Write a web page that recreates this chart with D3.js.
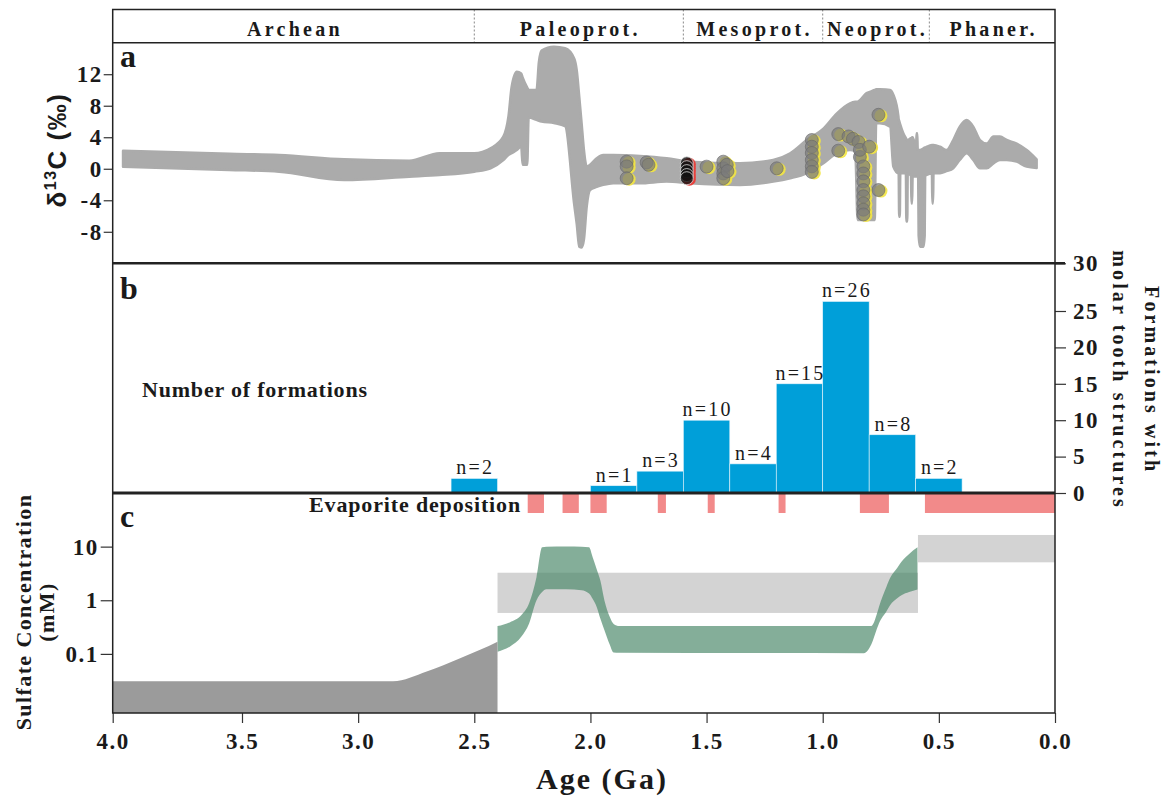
<!DOCTYPE html>
<html lang="en">
<head>
<meta charset="UTF-8">
<title>Carbon isotopes, molar tooth structures and sulfate</title>
<script src="https://d3js.org/d3.v7.min.js"></script>
<style>
  body { margin: 0; background: #fff; }
  svg text { font-family: "Liberation Serif", "Times New Roman", serif; fill: #1a1a1a; }
  .tick line { stroke: #333; stroke-width: 1.2px; }
  .tick text { font-size: 23px; font-weight: bold; letter-spacing: 1.5px; }
</style>
</head>
<body>
<svg width="1166" height="799"></svg>
<script>
// ---- data ----
const eraNames = ["Archean", "Paleoprot.", "Mesoprot.", "Neoprot.", "Phaner."];
const eraBounds = [4.0, 2.5, 1.6, 1.0, 0.541, 0];

// d13C envelope (grey band): age (Ga), upper and lower edge (permil)
const bandAge = [3.96, 3.55, 3.34, 3.06, 2.78, 2.65, 2.50, 2.43, 2.375, 2.353, 2.339, 2.317, 2.298, 2.292, 2.272, 2.266,
  2.232, 2.222, 2.21, 2.157, 2.109, 2.07, 2.059, 2.048, 2.038, 2.028, 2.016, 2.002, 1.973, 1.945, 1.902, 1.787,
  1.672, 1.571, 1.356, 1.213, 1.14, 1.069, 0.997, 0.94, 0.8825, 0.86, 0.85, 0.811, 0.776, 0.77, 0.754, 0.71,
  0.696, 0.674, 0.673, 0.671, 0.668, 0.666, 0.653, 0.642, 0.640, 0.636, 0.634, 0.620, 0.618, 0.615, 0.613,
  0.598, 0.596, 0.593, 0.591, 0.589, 0.587, 0.581, 0.566, 0.561, 0.559, 0.552, 0.530, 0.528, 0.525, 0.523,
  0.495, 0.467, 0.438, 0.41, 0.38, 0.352, 0.323, 0.294, 0.265, 0.237, 0.208, 0.165, 0.122, 0.079];
const bandHigh = [2.3, 1.9, 1.75, 1.2, 1.03, 1.97, 1.97, 2.6, 4.07, 6.6, 10.4, 12.3, 12.1, 11.6, 10.3, 10.0,
  10.0, 13.5, 15.0, 15.5, 15.3, 14.0, 12.5, 9.1, 5.8, 2.4, 0.3, 0.5, 1.33, 1.75, 1.75, 1.62,
  1.33, 0.9, 0.7, 1.12, 1.97, 3.65, 5.1, 7.0, 8.3, 8.5, 8.52, 9.6, 10.0, 10.1, 10.09, 10.0,
  9.4, 6.6, 6.3, 6.1, 5.8, 5.6, 4.5, 3.9, 3.8, 3.6, 3.6, 3.9, 3.9, 4.0, 4.0,
  2.8, 4.5, 4.5, 2.5, 2.4, 2.4, 2.38, 2.6, 2.7, 2.7, 2.8, 3.0, 3.0, 3.02, 3.02,
  2.8, 2.38, 3.65, 5.35, 6.2, 5.35, 3.65, 3.2, 4.08, 4.08, 3.65, 3.2, 2.38, 1.2];
const bandLow = [0.27, -0.15, -0.37, -1.42, -1.0, -0.79, -0.37, 0.06, 1.1, 1.75, 1.97, 2.4, 2.8, 0.5, 0.5, 6.5,
  6.2, 6.1, 6.0, 5.8, 5.4, -4.5, -7.0, -9.9, -10.0, -9.0, -4.8, -2.7, -2.3, -2.05, -1.84, -1.84,
  -1.63, -1.84, -2.05, -1.63, -1.2, -0.57, 0.7, 1.96, 2.38, 2.2, -6.5, -6.5, -6.5, 5.77, 5.77, 5.35,
  0.27, -0.57, -0.57, -6.1, -6.1, -0.57, -0.57, -0.57, -6.7, -6.7, -0.6, -0.9, -4.4, -4.4, -0.95,
  -0.99, -0.99, -0.99, -0.99, -1.0, -8.5, -9.9, -9.9, -8.5, -0.9, -0.78, -0.6, -4.4, -4.4, -0.57,
  -0.57, -0.3, 0.06, 1.11, 1.96, 1.11, 0.06, 0.06, 0.69, 1.11, 1.11, 0.9, 0.27, 0.1];

// molar-tooth carbonate d13C samples
const mtsAge = [1.844, 1.844, 1.844, 1.758, 1.75, 1.50, 1.428, 1.428, 1.428, 1.428, 1.413, 1.41, 1.198,
  1.047, 1.047, 1.047, 1.047, 1.047, 1.047, 0.933, 0.933, 0.889, 0.87, 0.846, 0.84, 0.84, 0.80,
  0.825, 0.825, 0.825, 0.825, 0.825, 0.825, 0.825, 0.825, 0.76, 0.76];
const mtsD13C = [0.9, 0.3, -1.2, 0.8, 0.5, 0.27, 0.9, 0.05, -0.6, -1.2, 0.5, -0.3, 0.06,
  3.65, 2.8, 2.0, 1.1, 0.3, -0.4, 4.4, 2.3, 4.1, 3.8, 3.4, 1.5, 2.4, 2.8,
  0.3, -0.6, -1.6, -2.7, -3.5, -4.4, -5.2, -5.8, 6.85, -2.7];
const darkAge = [1.585, 1.585, 1.585, 1.585, 1.585];
const darkD13C = [0.7, 0.2, -0.3, -0.8, -1.2];

// number of formations with molar tooth structures (0.2 Ga bins)
const binStart = [2.6, 2.0, 1.8, 1.6, 1.4, 1.2, 1.0, 0.8, 0.6];
const binEnd = [2.4, 1.8, 1.6, 1.4, 1.2, 1.0, 0.8, 0.6, 0.4];
const binCount = [2, 1, 3, 10, 4, 15, 26, 8, 2];
const countTicks = [0, 5, 10, 15, 20, 25, 30];

// evaporite deposition intervals
const evapStart = [2.27, 2.12, 2.0, 1.71, 1.495, 1.19, 0.84, 0.56];
const evapEnd = [2.20, 2.05, 1.93, 1.675, 1.465, 1.16, 0.715, 0];

// sulfate concentration (mM)
const archAge = [4.0, 2.85, 2.705, 2.561, 2.475, 2.40];
const archHigh = [0.031, 0.031, 0.047, 0.083, 0.119, 0.169];
const boxStart = [2.4, 0.59];
const boxEnd = [0.59, 0];
const boxLow = [0.58, 5.1];
const boxHigh = [3.26, 16.5];
const modelAge = [2.40, 2.346, 2.297, 2.264, 2.232, 2.208, 2.19, 2.103, 2.038, 2.006, 1.99, 1.973, 1.957, 1.94,
  1.917, 1.90, 1.876, 0.823, 0.791, 0.766, 0.758, 0.726, 0.71, 0.678, 0.661, 0.628, 0.592];
const modelHigh = [0.33, 0.39, 0.53, 0.88, 2.7, 9.7, 10.0, 10.1, 10.0, 9.7, 6.3, 3.8, 2.3, 1.0,
  0.49, 0.36, 0.33, 0.33, 0.33, 0.57, 0.75, 1.77, 2.6, 4.1, 5.2, 7.3, 9.7];
const modelLow = [0.11, 0.137, 0.21, 0.37, 1.0, 1.42, 1.6, 1.6, 1.53, 1.33, 1.05, 0.75, 0.45, 0.28,
  0.15, 0.106, 0.105, 0.103, 0.15, 0.30, 0.37, 0.62, 0.81, 1.1, 1.24, 1.42, 1.58];

const ageTicks = [4.0, 3.5, 3.0, 2.5, 2.0, 1.5, 1.0, 0.5, 0.0];

// ---- layout ----
const svg = d3.select("svg");
const L = 112.7, R = 1055;
const hTop = 9.5, aTop = 42.7, bTop = 263.3, cTop = 493, cBot = 713;

// the printed age axis is not quite linear at its left end
const x = d3.scaleLinear().domain([4, 3.5, 0]).range([L, 242, R]);
const ya = d3.scaleLinear().domain([-12, 16]).range([bTop, aTop]);
const yb = d3.scaleLinear().domain([0, 25, 30]).range([cTop, 311, bTop]);
const yc = d3.scaleLog().domain([0.0079, 100]).range([cBot, cTop]);

// ---- header ----
const eraG = svg.append("g");
eraBounds.slice(1, -1).forEach(b => {
  eraG.append("line")
    .attr("x1", x(b)).attr("x2", x(b)).attr("y1", hTop).attr("y2", aTop)
    .attr("stroke", "#888").attr("stroke-width", 1).attr("stroke-dasharray", "2,2");
});
eraNames.forEach((n, i) => {
  eraG.append("text")
    .attr("x", (x(eraBounds[i]) + x(eraBounds[i + 1])) / 2 + 1.5)
    .attr("y", 36)
    .attr("text-anchor", "middle")
    .style("font-size", "20px").style("font-weight", "bold").style("letter-spacing", "3.3px")
    .text(n);
});

// ---- panel a ----
const bandData = bandAge.map((a, i) => ({ age: a, hi: bandHigh[i], lo: bandLow[i] }));
const bandArea = d3.area()
  .x(d => x(d.age)).y0(d => ya(d.lo)).y1(d => ya(d.hi))
  .curve(d3.curveMonotoneX);
svg.append("path")
  .datum(bandData)
  .attr("d", bandArea)
  .attr("fill", "#ababab")
  .attr("stroke", "#ababab").attr("stroke-width", 2.5).attr("stroke-linejoin", "round");

const pts = mtsAge.map((a, i) => ({ age: a, v: mtsD13C[i] }));
const dark = darkAge.map((a, i) => ({ age: a, v: darkD13C[i] }));
const ptG = svg.append("g");
ptG.selectAll("circle.y").data(pts).join("circle")
  .attr("cx", d => x(d.age) + 2.5).attr("cy", d => ya(d.v) + 1)
  .attr("r", 6.5).attr("fill", "#f3e640").attr("opacity", 0.9);
ptG.selectAll("circle.g").data(pts).join("circle")
  .attr("cx", d => x(d.age)).attr("cy", d => ya(d.v))
  .attr("r", 6.5).attr("fill", "#7c7c7c").attr("fill-opacity", 0.72)
  .attr("stroke", "#666").attr("stroke-width", 0.6);
ptG.selectAll("circle.r").data(dark).join("circle")
  .attr("cx", d => x(d.age) + 2.5).attr("cy", d => ya(d.v) + 1)
  .attr("r", 6.5).attr("fill", "#e8413c");
ptG.selectAll("circle.k").data(dark).join("circle")
  .attr("cx", d => x(d.age)).attr("cy", d => ya(d.v))
  .attr("r", 6.5).attr("fill", "#111").attr("fill-opacity", 0.8)
  .attr("stroke", "#ddd").attr("stroke-width", 0.8);

svg.append("g")
  .attr("transform", `translate(${L},0)`)
  .call(d3.axisLeft(ya).tickValues([12, 8, 4, 0, -4, -8]).tickSize(9).tickPadding(1).tickFormat(d => String(d)))
  .call(g => g.select(".domain").remove());

svg.append("text")
  .attr("transform", `translate(66,${(aTop + bTop) / 2 - 3}) rotate(-90)`)
  .attr("text-anchor", "middle")
  .style("font-family", "'Liberation Sans', Arial, sans-serif")
  .style("font-size", "26px").style("font-weight", "bold").style("letter-spacing", "1.5px")
  .call(t => {
    t.append("tspan").text("δ");
    t.append("tspan").attr("dy", -10).style("font-size", "16px").text("13");
    t.append("tspan").attr("dy", 10).text("C (‰)");
  });

// ---- panel b ----
const bins = binStart.map((s, i) => ({ s: s, e: binEnd[i], n: binCount[i] }));
svg.append("g").selectAll("rect").data(bins).join("rect")
  .attr("x", d => x(d.s)).attr("width", d => x(d.e) - x(d.s))
  .attr("y", d => yb(d.n)).attr("height", d => yb(0) - yb(d.n))
  .attr("fill", "#009fd9").attr("stroke", "#e6f4fb").attr("stroke-width", 0.6);
svg.append("g").selectAll("text").data(bins).join("text")
  .attr("x", d => (x(d.s) + x(d.e)) / 2 + 1).attr("y", d => yb(d.n) - 4)
  .attr("text-anchor", "middle")
  .style("font-size", "20px").style("letter-spacing", "2.2px")
  .text(d => "n=" + d.n);

svg.append("g")
  .attr("transform", `translate(${R},0)`)
  .call(d3.axisRight(yb).tickValues(countTicks).tickSize(11).tickPadding(7))
  .call(g => g.select(".domain").remove());

svg.append("text")
  .attr("x", 142).attr("y", 397)
  .style("font-size", "22px").style("font-weight", "bold").style("letter-spacing", "0.8px")
  .text("Number of formations");

["Formations with", "molar tooth structures"].forEach((s, i) => {
  svg.append("text")
    .attr("transform", `translate(${1145 - i * 32},${(bTop + cTop) / 2 + 2}) rotate(90)`)
    .attr("text-anchor", "middle")
    .style("font-size", "20px").style("font-weight", "bold").style("letter-spacing", "3.1px")
    .text(s);
});

// ---- panel c ----
const evap = evapStart.map((s, i) => ({ s: s, e: evapEnd[i] }));
svg.append("g").selectAll("rect").data(evap).join("rect")
  .attr("x", d => x(d.s)).attr("width", d => x(d.e) - x(d.s))
  .attr("y", cTop + 1).attr("height", 19)
  .attr("fill", "#f28a8a");
svg.append("text")
  .attr("x", 521).attr("y", 512).attr("text-anchor", "end")
  .style("font-size", "22px").style("font-weight", "bold").style("letter-spacing", "0.85px")
  .text("Evaporite deposition");

const boxes = boxStart.map((s, i) => ({ s: s, e: boxEnd[i], lo: boxLow[i], hi: boxHigh[i] }));
svg.append("g").selectAll("rect").data(boxes).join("rect")
  .attr("x", d => x(d.s)).attr("width", d => x(d.e) - x(d.s))
  .attr("y", d => yc(d.hi)).attr("height", d => yc(d.lo) - yc(d.hi))
  .attr("fill", "#d3d3d3");

const model = modelAge.map((a, i) => ({ age: a, hi: modelHigh[i], lo: modelLow[i] }));
svg.append("path")
  .datum(model)
  .attr("d", d3.area().x(d => x(d.age)).y0(d => yc(d.lo)).y1(d => yc(d.hi)).curve(d3.curveMonotoneX))
  .attr("fill", "#4a8868").attr("fill-opacity", 0.68);

const arch = archAge.map((a, i) => ({ age: a, hi: archHigh[i] }));
svg.append("path")
  .datum(arch)
  .attr("d", d3.area().x(d => x(d.age)).y0(cBot).y1(d => yc(d.hi)).curve(d3.curveMonotoneX))
  .attr("fill", "#9b9b9b");

svg.append("g")
  .attr("transform", `translate(${L},0)`)
  .call(d3.axisLeft(yc).tickValues([10, 1, 0.1]).tickSize(12).tickPadding(2).tickFormat(d => String(d)))
  .call(g => g.select(".domain").remove());

["Sulfate Concentration", "(mM)"].forEach((s, i) => {
  svg.append("text")
    .attr("transform", `translate(${31 + i * 23},612) rotate(-90)`)
    .attr("text-anchor", "middle")
    .style("font-size", "22px").style("font-weight", "bold").style("letter-spacing", "1.4px")
    .text(s);
});

// ---- age axis ----
svg.append("g")
  .attr("transform", `translate(0,${cBot})`)
  .call(d3.axisBottom(x).tickValues(ageTicks).tickSize(10).tickPadding(10).tickFormat(d3.format(".1f")))
  .call(g => g.select(".domain").remove());
svg.append("text")
  .attr("x", 602).attr("y", 789).attr("text-anchor", "middle")
  .style("font-size", "30px").style("font-weight", "bold").style("letter-spacing", "2px")
  .text("Age (Ga)");

// ---- frame ----
const frame = svg.append("g").attr("fill", "none").attr("stroke", "#222");
frame.append("rect").attr("x", L).attr("y", hTop).attr("width", R - L).attr("height", cBot - hTop)
  .attr("stroke-width", 1.5);
frame.append("line").attr("x1", L).attr("x2", R).attr("y1", aTop).attr("y2", aTop).attr("stroke-width", 1.5);
frame.append("line").attr("x1", L).attr("x2", R + 10).attr("y1", bTop).attr("y2", bTop).attr("stroke-width", 2.5);
frame.append("line").attr("x1", L).attr("x2", R).attr("y1", cTop).attr("y2", cTop).attr("stroke-width", 3);

// panel letters
[["a", 67], ["b", 299], ["c", 527]].forEach(([t, y]) => {
  svg.append("text").attr("x", 120).attr("y", y)
    .style("font-size", "32px").style("font-weight", "bold").text(t);
});
</script>
</body>
</html>
